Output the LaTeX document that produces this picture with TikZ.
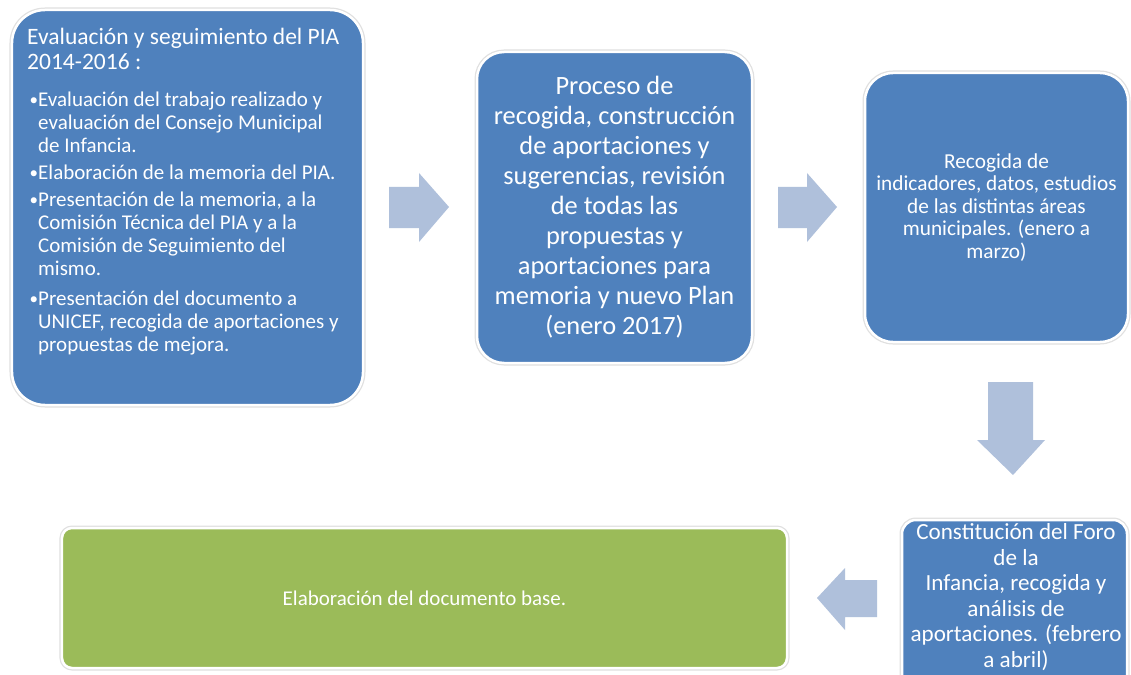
\documentclass[tikz,border=0pt]{standalone}
\usepackage{fontspec}
\setmainfont{Carlito}
\definecolor{boxblue}{HTML}{4F81BD}
\definecolor{boxgreen}{HTML}{9BBB59}
\definecolor{arrowblue}{HTML}{AFC0DB}
\newcommand{\bul}{\makebox[10bp][l]{\hspace*{1.5bp}\raisebox{1.5bp}{\fontsize{17bp}{17bp}\selectfont•}}}
\begin{document}
\begin{tikzpicture}[x=1bp,y=-1bp,
  panel/.style={shape=rectangle, inner sep=0pt,
    preaction={draw=black!12, line width=5bp},
    draw=white, line width=2.5bp, fill=boxblue},
  greenpanel/.style={panel, fill=boxgreen},
  txt/.style={text=white, inner sep=0pt},
  blockarrow/.style={fill=arrowblue, draw=none}
]
\clip (0,0) rectangle (1131,675);
\fill[white] (0,0) rectangle (1131,675);

% panels
\node[panel, minimum width=351bp, minimum height=395bp, rounded corners=33bp] (b1) at (187.5,207.5) {};
\node[panel, minimum width=275bp, minimum height=311bp, rounded corners=27bp] (b2) at (614.5,207.5) {};
\node[panel, minimum width=263bp, minimum height=269bp, rounded corners=28bp] (b3) at (996.5,207.5) {};
\node[panel, minimum width=225bp, minimum height=175bp, rounded corners=14bp] (b4) at (1014.5,607.5) {};
\node[greenpanel, minimum width=725bp, minimum height=140bp, rounded corners=10bp] (b5) at (424.5,598) {};

% texts
\node[txt, anchor=north west, align=left, font=\fontsize{23.5bp}{25bp}\selectfont] (t1a) at (27,28)
  {Evaluación y seguimiento del PIA\\2014-2016 :};
\node[txt, anchor=north west, align=left, font=\fontsize{21bp}{23bp}\selectfont] (t1b) at (28,92)
  {\bul Evaluación del trabajo realizado y\\
   \hspace*{10bp}evaluación del Consejo Municipal\\
   \hspace*{10bp}de Infancia.\\[4bp]
   \bul Elaboración de la memoria del PIA.\\[4bp]
   \bul Presentación de la memoria, a la\\
   \hspace*{10bp}Comisión Técnica del PIA y a la\\
   \hspace*{10bp}Comisión de Seguimiento del\\
   \hspace*{10bp}mismo.\\[7bp]
   \bul Presentación del documento a\\
   \hspace*{10bp}UNICEF, recogida de aportaciones y\\
   \hspace*{10bp}propuestas de mejora.};

\node[txt, align=center, font=\fontsize{26.4bp}{30bp}\selectfont] (t2) at (b2.center)
  {Proceso de\\recogida, construcción\\de aportaciones y\\sugerencias, revisión\\de todas las\\propuestas y\\aportaciones para\\memoria y nuevo Plan\\(enero 2017)};

\node[txt, align=center, font=\fontsize{21.3bp}{22.5bp}\selectfont] (t3) at (b3.center)
  {Recogida de\\indicadores, datos, estudios\\de las distintas áreas\\municipales. (enero a\\marzo)};

\node[txt, align=center, font=\fontsize{23.1bp}{25.5bp}\selectfont] (t4) at (1016,597)
  {Constitución del Foro\\de la\\Infancia, recogida y\\análisis de\\aportaciones. (febrero\\a abril)};

\node[txt, align=center, font=\fontsize{21bp}{23bp}\selectfont] (t5) at (b5.center)
  {Elaboración del documento base.};

% block arrows
\fill[blockarrow] (389,187) -- (419,187) -- (419,173) -- (449,207) -- (419,242) -- (419,228) -- (389,228) -- cycle;
\fill[blockarrow] (778,187) -- (807,187) -- (807,173) -- (837,207) -- (807,242) -- (807,228) -- (778,228) -- cycle;
\fill[blockarrow] (988,382) -- (1033,382) -- (1033,440) -- (1045,440) -- (1013,475) -- (977,440) -- (988,440) -- cycle;
\fill[blockarrow] (877,580) -- (845,580) -- (845,568) -- (817,598) -- (845,630) -- (845,617) -- (877,617) -- cycle;
\end{tikzpicture}
\end{document}
